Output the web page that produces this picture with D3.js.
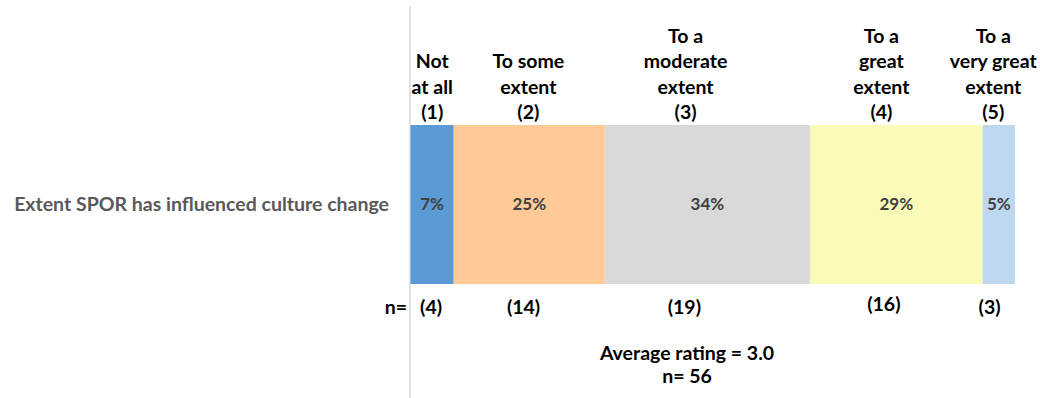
<!DOCTYPE html>
<html>
<head>
<meta charset="utf-8">
<script src="https://cdn.jsdelivr.net/npm/d3@7"></script>
<style>
  html, body { margin: 0; padding: 0; background: #fff; }
  svg { display: block; }
  text { font-family: Lato, "Open Sans", sans-serif; font-weight: bold; }
</style>
</head>
<body>
<svg id="chart" width="1040" height="398"></svg>
<script>
// ---- data ----
const categoryLabel = "Extent SPOR has influenced culture change";
const responseLabels = [
  ["Not", "at all", "(1)"],
  ["To some", "extent", "(2)"],
  ["To a", "moderate", "extent", "(3)"],
  ["To a", "great", "extent", "(4)"],
  ["To a", "very great", "extent", "(5)"]
];
const counts = [4, 14, 19, 16, 3];
const percentLabels = ["7%", "25%", "34%", "29%", "5%"];
const nLabels = ["(4)", "(14)", "(19)", "(16)", "(3)"];
// header / n label anchor positions, in percent-of-bar units
const headerPos = [3.6, 19.5, 45.5, 77.9, 96.4];
const nPos = [3.4, 18.7, 45.3, 78.3, 95.8];
const colors = ["#5B9BD5", "#FFCA96", "#D9D9D9", "#FAFBB8", "#BDD7EE"];
const averageText = "Average rating = 3.0";
const totalText = "n= 56";

// ---- layout ----
const svg = d3.select("#chart");
const W = 1040, H = 398;
const total = d3.sum(counts);
const pct = counts.map(c => c / total * 100);
const starts = d3.cumsum([0, ...pct.slice(0, -1)]);

const x = d3.scaleLinear().domain([0, 100]).range([410.5, 1015]);
const y = d3.scaleBand().domain([categoryLabel]).range([125, 284]);
const FS = 19.5;

// axis line
svg.append("line")
  .attr("x1", x(0) - 0.5).attr("x2", x(0) - 0.5)
  .attr("y1", 6).attr("y2", H)
  .attr("stroke", "#D9D9D9").attr("stroke-width", 1.5);

// bars
svg.selectAll("rect.seg").data(pct).join("rect")
  .attr("class", "seg")
  .attr("x", (d, i) => x(starts[i]))
  .attr("width", d => x(d) - x(0))
  .attr("y", y(categoryLabel))
  .attr("height", y.bandwidth())
  .attr("fill", (d, i) => colors[i]);

// percent labels
svg.selectAll("text.pct").data(pct).join("text")
  .attr("class", "pct")
  .attr("x", (d, i) => x(starts[i] + d / 2))
  .attr("y", y(categoryLabel) + y.bandwidth() / 2)
  .attr("dy", "0.35em")
  .attr("text-anchor", "middle")
  .attr("font-size", 17)
  .attr("fill", "#404040")
  .text((d, i) => percentLabels[i]);

// category label
svg.append("text")
  .attr("x", 389)
  .attr("y", y(categoryLabel) + y.bandwidth() / 2)
  .attr("dy", "0.35em")
  .attr("text-anchor", "end")
  .attr("font-size", FS)
  .attr("fill", "#595959")
  .text(categoryLabel);

// header labels (bottom-aligned)
const lineH = 25.5;
const headerBase = 119;
responseLabels.forEach((lines, i) => {
  const t = svg.append("text")
    .attr("text-anchor", "middle")
    .attr("font-size", FS)
    .attr("fill", "#000");
  lines.forEach((ln, j) => {
    t.append("tspan")
      .attr("x", x(headerPos[i]))
      .attr("y", headerBase - (lines.length - 1 - j) * lineH)
      .text(ln);
  });
});

// n labels
svg.append("text")
  .attr("x", 407).attr("y", 314)
  .attr("text-anchor", "end")
  .attr("font-size", FS).attr("fill", "#000")
  .text("n=");
svg.selectAll("text.n").data(nLabels).join("text")
  .attr("class", "n")
  .attr("x", (d, i) => x(nPos[i]))
  .attr("y", (d, i) => i === 3 ? 311 : 314)
  .attr("text-anchor", "middle")
  .attr("font-size", FS).attr("fill", "#000")
  .text(d => d);

// average rating
svg.append("text")
  .attr("x", 687).attr("y", 360)
  .attr("text-anchor", "middle")
  .attr("font-size", FS).attr("fill", "#000")
  .text(averageText);
svg.append("text")
  .attr("x", 687).attr("y", 383)
  .attr("text-anchor", "middle")
  .attr("font-size", FS).attr("fill", "#000")
  .text(totalText);
</script>
</body>
</html>
